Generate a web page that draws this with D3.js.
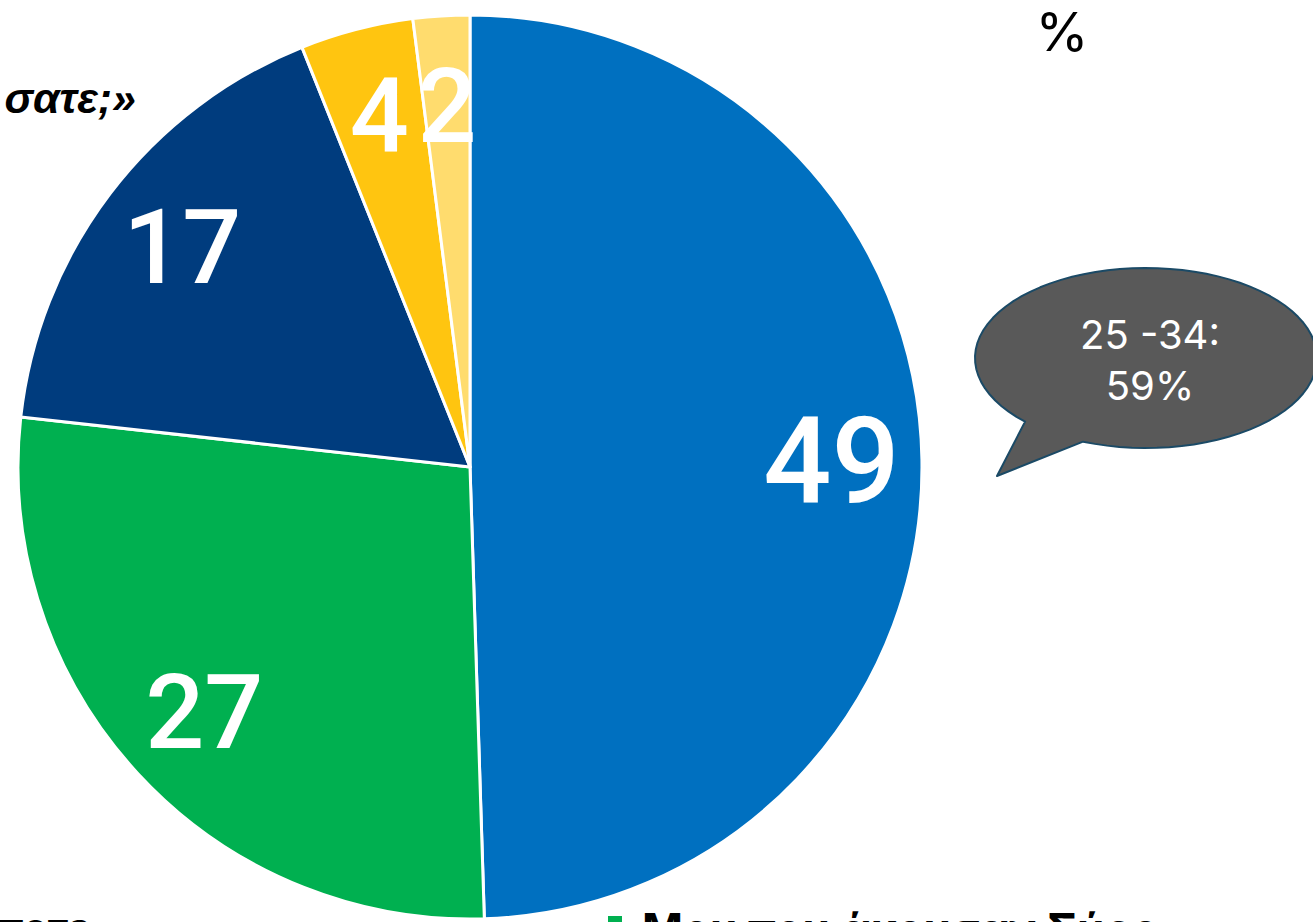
<!DOCTYPE html>
<html>
<head>
<meta charset="utf-8">
<script src="https://cdn.jsdelivr.net/npm/d3@7"></script>
<style>
  html, body { margin: 0; padding: 0; background: #fff; overflow: hidden; }
  svg { display: block; font-family: Inter, "Liberation Sans", Arial, sans-serif; }
</style>
</head>
<body>
<svg id="chart" width="1313" height="922"></svg>
<script>
// slice values, clockwise from 12 o'clock
var values = [49, 27, 17, 4, 2];
var colors = ["#0070C0", "#00B050", "#003C7E", "#FFC510", "#FFDC6E"];
var labelSize = [120, 104, 104, 104, 104];
var bubbleLines = ["25 -34:", "59%"];

var svg = d3.select("#chart");
var cx = 470, cy = 467, radius = 452;

var pie = d3.pie().sort(null).value(function (d) { return d; });
var arc = d3.arc().innerRadius(0).outerRadius(radius);
var labelArc = d3.arc().innerRadius(radius * 0.8).outerRadius(radius * 0.8);

var g = svg.append("g").attr("transform", "translate(" + cx + "," + cy + ")");
var slices = pie(values);

g.selectAll("path")
    .data(slices)
    .enter().append("path")
    .attr("d", arc)
    .attr("fill", function (d, i) { return colors[i]; })
    .attr("stroke", "#fff")
    .attr("stroke-width", 3)
    .attr("stroke-linejoin", "round");

g.selectAll("text.val")
    .data(slices)
    .enter().append("text")
    .attr("class", "val")
    .attr("transform", function (d) { return "translate(" + labelArc.centroid(d) + ")"; })
    .attr("text-anchor", "middle")
    .attr("dy", "0.34em")
    .attr("fill", "#fff")
    .attr("font-family", "Roboto, 'Liberation Sans', sans-serif")
    .attr("font-weight", 500)
    .attr("font-size", function (d, i) { return labelSize[i]; })
    .text(function (d) { return d.value; });

// clipped title / legend fragments
svg.append("text")
    .attr("x", 136).attr("y", 113)
    .attr("text-anchor", "end")
    .attr("font-size", 43).attr("font-weight", "bold").attr("font-style", "italic")
    .attr("font-family", "'Liberation Sans', Arial, sans-serif")
    .attr("fill", "#000")
    .text("σατε;»");

svg.append("text")
    .attr("x", 1062).attr("y", 51)
    .attr("text-anchor", "middle")
    .attr("font-size", 54)
    .attr("fill", "#000")
    .text("%");

svg.append("text")
    .attr("x", -2).attr("y", 942)
    .attr("font-size", 40).attr("font-weight", "bold")
    .attr("fill", "#000")
    .text("ποτε");

svg.append("rect")
    .attr("x", 608).attr("y", 916).attr("width", 14).attr("height", 14)
    .attr("fill", "#00B050");
svg.append("text")
    .attr("x", 642).attr("y", 945)
    .attr("font-size", 44).attr("font-weight", "bold")
    .attr("fill", "#000")
    .text("Μου που άκουσαν Σύρο");

// speech bubble
var bx = 1146, by = 358, rx = 171, ry = 90;
var bubble = d3.path();
var a1 = Math.PI * 0.75, a2 = Math.PI * 0.62;
bubble.moveTo(bx + rx * Math.cos(a1), by + ry * Math.sin(a1));
bubble.lineTo(997, 476);
bubble.lineTo(bx + rx * Math.cos(a2), by + ry * Math.sin(a2));
var n = 80;
for (var k = 1; k <= n; k++) {
    var t = a2 - (2 * Math.PI - (a1 - a2)) * k / n;
    bubble.lineTo(bx + rx * Math.cos(t), by + ry * Math.sin(t));
}
bubble.closePath();
svg.append("path")
    .attr("d", bubble.toString())
    .attr("fill", "#595959")
    .attr("stroke", "#1B4A66")
    .attr("stroke-width", 2)
    .attr("stroke-linejoin", "round");

svg.append("g").selectAll("text")
    .data(bubbleLines)
    .enter().append("text")
    .attr("x", 1150)
    .attr("y", function (d, i) { return 349 + i * 51; })
    .attr("text-anchor", "middle")
    .attr("font-size", 40)
    .attr("fill", "#fff")
    .text(function (d) { return d; });
</script>
</body>
</html>
